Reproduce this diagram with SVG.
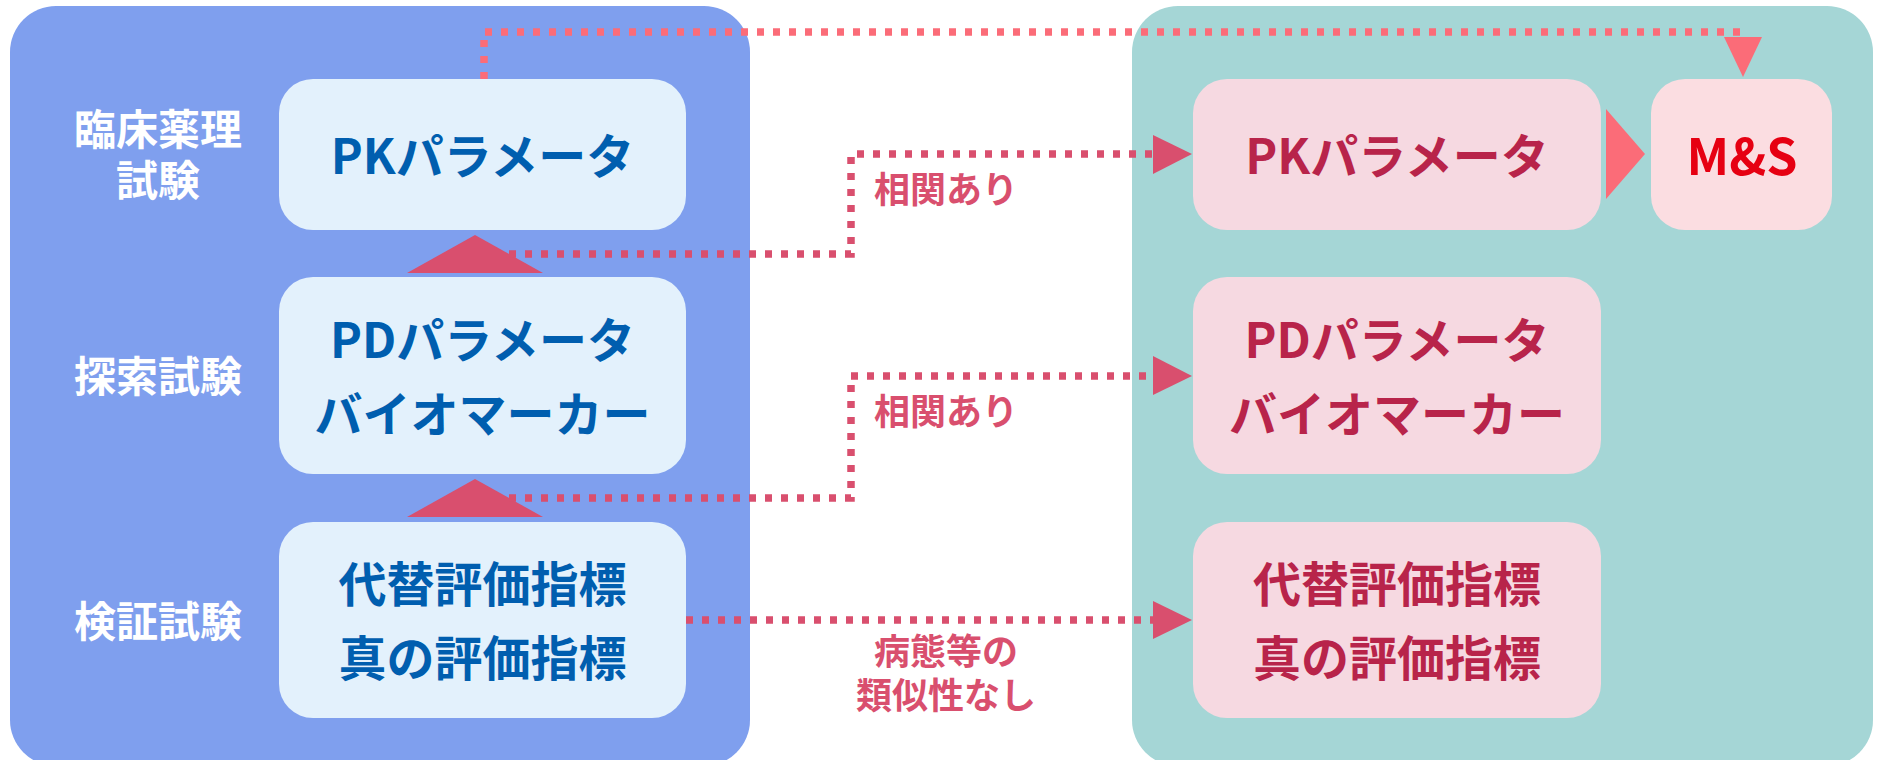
<svg xmlns="http://www.w3.org/2000/svg" width="1879" height="760" viewBox="0 0 1879 760">
<style>
text{font-family:"Noto Sans CJK JP","Noto Sans",sans-serif;font-weight:bold;text-anchor:middle}
.stage{fill:#ffffff;font-size:42px}
.lbox{fill:#E3F1FC}
.rbox{fill:#F6D9E1}
.ltxt{fill:#005EAF;font-size:48px}
.rtxt{fill:#B8244A;font-size:48px}
.lbl{fill:#D94F6E;font-size:36px}
.dot{fill:none;stroke:#D94F6E;stroke-width:7.5;stroke-dasharray:7 9}
.dot2{fill:none;stroke:#FB6C78;stroke-width:7.5;stroke-dasharray:7 9}
.ah{fill:#D94F6E}
.ah2{fill:#FB6C78}
</style>
<rect width="1879" height="760" fill="#ffffff"/>
<g id="panel-left"><rect x="10" y="6" width="740" height="760" rx="46" fill="#7F9FEE"/></g>
<g id="panel-right"><rect x="1132" y="6" width="741" height="760" rx="46" fill="#A5D6D6"/></g>
<g id="stage-labels">
<text class="stage" x="158" y="145">臨床薬理</text>
<text class="stage" x="158" y="196">試験</text>
<text class="stage" x="158" y="392">探索試験</text>
<text class="stage" x="158" y="637">検証試験</text>
</g>
<g id="up-arrows">
<polygon class="ah" points="475,235 407,273 543,273"/>
<polygon class="ah" points="475,479 407,517 543,517"/>
</g>
<g id="node-l-pk"><rect class="lbox" x="279" y="79" width="407" height="151" rx="34"/><text class="ltxt" x="482.5" y="174">PKパラメータ</text></g>
<g id="node-l-pd"><rect class="lbox" x="279" y="277" width="407" height="197" rx="34"/><text class="ltxt" x="482.5" y="358">PDパラメータ</text><text class="ltxt" x="482.5" y="432">バイオマーカー</text></g>
<g id="node-l-ep"><rect class="lbox" x="279" y="522" width="407" height="196" rx="34"/><text class="ltxt" x="482.5" y="602">代替評価指標</text><text class="ltxt" x="482.5" y="676">真の評価指標</text></g>
<g id="node-r-pk"><rect class="rbox" x="1193" y="79" width="408" height="151" rx="34"/><text class="rtxt" x="1397" y="174">PKパラメータ</text></g>
<g id="node-ms"><rect x="1651" y="79" width="181" height="151" rx="34" fill="#FBDDE1"/><text x="1742" y="175" fill="#E60012" font-size="50">M&amp;S</text></g>
<g id="node-r-pd"><rect class="rbox" x="1193" y="277" width="408" height="197" rx="34"/><text class="rtxt" x="1397" y="358">PDパラメータ</text><text class="rtxt" x="1397" y="432">バイオマーカー</text></g>
<g id="node-r-ep"><rect class="rbox" x="1193" y="522" width="408" height="196" rx="34"/><text class="rtxt" x="1397" y="602">代替評価指標</text><text class="rtxt" x="1397" y="676">真の評価指標</text></g>
<g id="connectors">
<path class="dot2" d="M484,79 V32 H1743"/>
<polygon class="ah2" points="1724,37 1762,37 1743,77"/>
<polygon class="ah2" points="1606,109 1606,199 1645,154"/>
<path class="dot" d="M509,254 H851 V154 H1156"/>
<polygon class="ah" points="1153,135 1153,174 1192,154"/>
<path class="dot" d="M509,498 H851 V376 H1156"/>
<polygon class="ah" points="1153,356 1153,395 1192,376"/>
<path class="dot" d="M686,620 H1156"/>
<polygon class="ah" points="1153,601 1153,639 1192,620"/>
</g>
<g id="connector-labels">
<text class="lbl" x="946" y="203">相関あり</text>
<text class="lbl" x="946" y="425">相関あり</text>
<text class="lbl" x="946" y="665">病態等の</text>
<text class="lbl" x="946" y="709">類似性なし</text>
</g>
</svg>
